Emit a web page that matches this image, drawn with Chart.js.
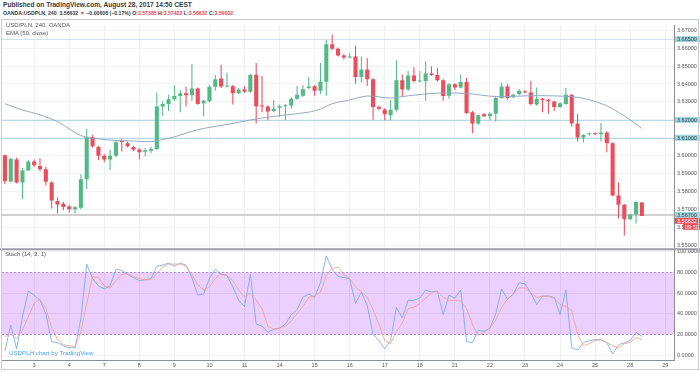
<!DOCTYPE html>
<html>
<head>
<meta charset="utf-8">
<script src="https://cdn.jsdelivr.net/npm/chart.js@4.4.0/dist/chart.umd.min.js"></script>
<style>
  body { margin: 0; width: 700px; height: 372px; background: #fff; overflow: hidden; position: relative;
         font-family: 'Liberation Sans', Arial, sans-serif; }
  .txt { position: absolute; white-space: nowrap; line-height: 1; }
  #pub { left: 3px; top: 2px; font-size: 6.6px; font-weight: bold; color: #3a3a3a; }
  #sym { left: 3px; top: 10.5px; font-size: 5.2px; font-weight: bold; color: #3a3a3a; }
  #sym .r { color: #e0474f; }
  .leg { font-size: 6px; color: #555; }
  #wm { left: 9px; top: 350px; font-size: 6.2px; color: #46a6e8; }
  #wrap { position: absolute; left: 0; top: 19px; width: 700px; height: 353px; }
  #frame { position: absolute; left: 1px; top: 19px; width: 698px; height: 351px; border: 1px solid #c9ccd0; box-sizing: border-box; pointer-events: none; }
</style>
</head>
<body>
<div class="txt" id="pub">Published on TradingView.com, August 28, 2017 14:50 CEST</div>
<div class="txt" id="sym">OANDA:USDPLN, 240 &nbsp;3.56632 <span class="r">▼</span> −0.00608 (−0.17%) O:<span class="r">3.57385</span> H:<span class="r">3.57422</span> L:<span class="r">3.56632</span> C:<span class="r">3.56632</span></div>
<div id="wrap"><canvas id="chart" width="700" height="353"></canvas></div>
<div id="frame"></div>
<div class="txt leg" style="left:6px;top:22px">USD/PLN, 240, OANDA</div>
<div class="txt leg" style="left:6px;top:29.5px">EMA (50, close)</div>
<div class="txt leg" style="left:5px;top:250.5px">Stoch (14, 3, 1)</div>
<div class="txt" id="wm">USDPLH chart by TradingView</div>
<script>
// Trading days shown (Aug 2017) and 4h bars in each slot of the time axis
const days = ['2', '3', '4', '7', '8', '9', '10', '11', '14', '15', '16', '17', '18', '21', '22', '23', '24', '25', '28', '29'];
const barsPerDay = [5, 6, 6, 6, 6, 6, 6, 6, 6, 6, 6, 6, 6, 6, 6, 6, 6, 6, 6, 2];
const hours = ['00:00', '04:00', '08:00', '12:00', '16:00', '20:00'];

// OHLC, one value per 4h candle (110 candles)
const open = [
  3.6002, 3.5856, 3.5979, 3.5851, 3.5918, 3.5968, 3.5942, 3.5924, 3.5851, 3.5747,
  3.5732, 3.5717, 3.5701, 3.5710, 3.5869, 3.6103, 3.6048, 3.6000, 3.5979, 3.6000,
  3.6081, 3.6070, 3.6048, 3.6035, 3.6022, 3.6028, 3.6037, 3.6274, 3.6289, 3.6315,
  3.6333, 3.6349, 3.6338, 3.6375, 3.6293, 3.6304, 3.6384, 3.6430, 3.6386, 3.6388,
  3.6349, 3.6369, 3.6357, 3.6452, 3.6278, 3.6274, 3.6249, 3.6267, 3.6276, 3.6280,
  3.6317, 3.6335, 3.6377, 3.6388, 3.6362, 3.6413, 3.6621, 3.6596, 3.6559, 3.6548,
  3.6554, 3.6439, 3.6481, 3.6426, 3.6271, 3.6258, 3.6225, 3.6256, 3.6421, 3.6369,
  3.6448, 3.6414, 3.6417, 3.6459, 3.6450, 3.6421, 3.6335, 3.6399, 3.6380, 3.6411,
  3.6243, 3.6180, 3.6231, 3.6220, 3.6234, 3.6322, 3.6386, 3.6326, 3.6344, 3.6358,
  3.6353, 3.6285, 3.6317, 3.6311, 3.6302, 3.6271, 3.6289, 3.6338, 3.6180, 3.6101,
  3.6119, 3.6125, 3.6119, 3.6130, 3.6070, 3.5778, 3.5726, 3.5646, 3.5672, 3.57385
];
const high = [
  3.6006, 3.5989, 3.5988, 3.5933, 3.5975, 3.5979, 3.5986, 3.5938, 3.5858, 3.5768,
  3.5741, 3.5726, 3.5719, 3.5896, 3.6150, 3.6116, 3.6055, 3.6008, 3.6033, 3.6084,
  3.6092, 3.6079, 3.6055, 3.6043, 3.6043, 3.6048, 3.6353, 3.6304, 3.6340, 3.6393,
  3.6366, 3.6384, 3.6512, 3.6380, 3.6311, 3.6395, 3.6450, 3.6508, 3.6463, 3.6395,
  3.6377, 3.6389, 3.6457, 3.6517, 3.6444, 3.6282, 3.6311, 3.6284, 3.6289, 3.6326,
  3.6389, 3.6393, 3.6439, 3.6393, 3.6517, 3.6645, 3.6676, 3.6603, 3.6567, 3.6572,
  3.6614, 3.6554, 3.6545, 3.6433, 3.6280, 3.6265, 3.6311, 3.6532, 3.6453, 3.6472,
  3.6494, 3.6472, 3.6527, 3.6499, 3.6490, 3.6428, 3.6404, 3.6404, 3.6453, 3.6435,
  3.6250, 3.6229, 3.6238, 3.6243, 3.6335, 3.6408, 3.6399, 3.6346, 3.6371, 3.6366,
  3.6417, 3.6380, 3.6322, 3.6317, 3.6307, 3.6298, 3.6377, 3.6344, 3.6234, 3.6120,
  3.6130, 3.6130, 3.6183, 3.6136, 3.6075, 3.5851, 3.5730, 3.5677, 3.5745, 3.57422
];
const low = [
  3.5842, 3.5851, 3.5845, 3.5759, 3.5913, 3.5938, 3.5913, 3.5833, 3.5705, 3.5677,
  3.5696, 3.5683, 3.5677, 3.5701, 3.5814, 3.6044, 3.5975, 3.5964, 3.5920, 3.5993,
  3.6024, 3.6046, 3.6028, 3.5979, 3.5997, 3.6015, 3.6030, 3.6223, 3.6249, 3.6307,
  3.6243, 3.6274, 3.6307, 3.6284, 3.6220, 3.6298, 3.6362, 3.6377, 3.6380, 3.6285,
  3.6344, 3.6351, 3.6351, 3.6180, 3.6243, 3.6198, 3.6242, 3.6216, 3.6198, 3.6262,
  3.6311, 3.6329, 3.6371, 3.6335, 3.6344, 3.6335, 3.6589, 3.6554, 3.6536, 3.6545,
  3.6402, 3.6408, 3.6389, 3.6201, 3.6253, 3.6198, 3.6198, 3.6247, 3.6329, 3.6362,
  3.6408, 3.6408, 3.6307, 3.6444, 3.6413, 3.6307, 3.6317, 3.6366, 3.6375, 3.6233,
  3.6125, 3.6171, 3.6216, 3.6198, 3.6189, 3.6317, 3.6313, 3.6320, 3.6337, 3.6349,
  3.6280, 3.6280, 3.6243, 3.6234, 3.6249, 3.6267, 3.6284, 3.6161, 3.6079, 3.6073,
  3.6112, 3.6116, 3.6079, 3.6019, 3.5774, 3.5650, 3.5555, 3.5641, 3.5622, 3.56632
];
const close = [
  3.5858, 3.5982, 3.5851, 3.5918, 3.5968, 3.5946, 3.5924, 3.5854, 3.5750, 3.5728,
  3.5714, 3.5701, 3.5712, 3.5869, 3.6103, 3.6052, 3.6000, 3.5979, 3.6000, 3.6075,
  3.6077, 3.6052, 3.6033, 3.6019, 3.6030, 3.6037, 3.6274, 3.6289, 3.6315, 3.6333,
  3.6349, 3.6337, 3.6375, 3.6289, 3.6306, 3.6384, 3.6426, 3.6386, 3.6390, 3.6349,
  3.6369, 3.6357, 3.6452, 3.6276, 3.6274, 3.6247, 3.6262, 3.6276, 3.6280, 3.6317,
  3.6340, 3.6371, 3.6386, 3.6362, 3.6413, 3.6621, 3.6596, 3.6559, 3.6548, 3.6554,
  3.6439, 3.6481, 3.6426, 3.6271, 3.6262, 3.6231, 3.6256, 3.6421, 3.6369, 3.6448,
  3.6417, 3.6417, 3.6459, 3.6450, 3.6421, 3.6333, 3.6399, 3.6380, 3.6411, 3.6238,
  3.6180, 3.6225, 3.6220, 3.6234, 3.6322, 3.6386, 3.6322, 3.6340, 3.6362, 3.6353,
  3.6289, 3.6317, 3.6311, 3.6304, 3.6271, 3.6293, 3.6340, 3.6180, 3.6101, 3.6116,
  3.6125, 3.6119, 3.6130, 3.6070, 3.5778, 3.5726, 3.5646, 3.5672, 3.5741, 3.56632
];

// EMA(50, close): [candle number, value]
const emaPoints = [
  [1, 3.6290], [4, 3.6255], [7, 3.6228], [10, 3.6190], [12, 3.6150], [14, 3.6112],
  [17, 3.6094], [20, 3.6085], [23, 3.6082], [26, 3.6078], [28, 3.6090], [30, 3.6105],
  [34, 3.6145], [40, 3.6180], [44, 3.6205], [48, 3.6223], [53, 3.6243], [55, 3.6260],
  [57, 3.6290], [60, 3.6311], [63, 3.6333], [67, 3.6322], [70, 3.6334], [75, 3.6349],
  [80, 3.6347], [85, 3.6330], [92, 3.6335], [98, 3.6329], [101, 3.6312], [104, 3.6278],
  [107, 3.6222], [110, 3.6152]
];

// Stoch (14, 3, 1): %K and %D per candle
const stochK = [
  4, 29, 6, 37, 62, 58, 53, 40, 13, 12,
  9, 7, 7, 35, 88, 74, 67, 64, 67, 83,
  82, 78, 75, 72, 73, 74, 86, 87, 89, 86,
  89, 87, 75, 58, 59, 74, 83, 78, 77, 66,
  53, 47, 78, 30, 28, 22, 25, 26, 30, 39,
  44, 56, 59, 56, 70, 96, 83, 76, 75, 74,
  50, 61, 48, 20, 14, 6, 14, 46, 36, 53,
  53, 55, 63, 61, 62, 39, 58, 55, 63, 13,
  12, 24, 23, 26, 40, 64, 54, 59, 70, 69,
  60, 49, 57, 57, 56, 39, 63, 7, 5, 12,
  14, 15, 15, 12, 1, 10, 12, 14, 22, 18
];
const stochD = [
  18, 20, 16, 24, 37, 50, 54, 45, 27, 15,
  10, 9, 8, 22, 50, 76, 75, 67, 65, 72,
  78, 79, 76, 74, 73, 73, 79, 85, 88, 88,
  88, 86, 78, 68, 63, 66, 74, 79, 77, 72,
  63, 56, 60, 53, 45, 28, 25, 26, 28, 33,
  40, 47, 56, 57, 61, 77, 84, 85, 78, 74,
  66, 61, 56, 44, 30, 14, 11, 23, 31, 45,
  46, 50, 55, 60, 62, 56, 53, 53, 52, 45,
  30, 19, 22, 26, 34, 46, 54, 59, 65, 65,
  60, 56, 57, 57, 55, 49, 47, 43, 20, 9,
  11, 14, 15, 12, 9, 7, 11, 12, 17, 15
];

// Drawn horizontal levels and stoch band
const levels = [3.665, 3.62, 3.61, 3.567];
const bandLevels = [80, 20];
const countdown = '09:50';

const UP = '#53b987';
const DOWN = '#eb4d5c';
const levelColors = ['#d3e3ea', '#b5dbe7', '#b5dbe7', '#d0d0d0'];
const levelWidths = [1, 1, 1, 2];

// build the time axis categories (first day starts after midnight)
const categories = [];
const dayOf = [];
days.forEach((d, j) => {
  const hs = j === 0 ? hours.slice(hours.length - barsPerDay[j]) : hours.slice(0, barsPerDay[j]);
  hs.forEach(h => { categories.push('Aug ' + d + ' ' + h); dayOf.push(h === '00:00' ? d : ''); });
});

const wicks = low.map((l, i) => [l, high[i]]);
const bodies = open.map((o, i) => [o, close[i]]);
const colors = open.map((o, i) => close[i] >= o ? UP : DOWN);
const ema = close.map(() => null);
emaPoints.forEach(([n, v]) => { ema[n - 1] = v; });

Chart.defaults.font.family = "'Liberation Sans', Arial, sans-serif";
Chart.defaults.color = '#555';

const panes = {
  id: 'panes',
  beforeDatasetsDraw(chart) {
    const { ctx, chartArea: a, scales: { y, y2 } } = chart;
    ctx.save();
    const t = y2.getPixelForValue(bandLevels[0]);
    const b = y2.getPixelForValue(bandLevels[1]);
    ctx.fillStyle = 'rgba(153, 21, 255, 0.2)';
    ctx.fillRect(a.left, t, a.right - a.left, b - t);
    ctx.strokeStyle = '#b38fe0';
    ctx.lineWidth = 1;
    ctx.setLineDash([2, 2]);
    bandLevels.forEach(v => {
      const p = Math.round(y2.getPixelForValue(v)) + 0.5;
      ctx.beginPath(); ctx.moveTo(a.left, p); ctx.lineTo(a.right, p); ctx.stroke();
    });
    ctx.setLineDash([]);
    levels.forEach((v, i) => {
      const p = Math.round(y.getPixelForValue(v)) + (levelWidths[i] % 2 ? 0.5 : 0);
      ctx.strokeStyle = levelColors[i];
      ctx.lineWidth = levelWidths[i];
      ctx.beginPath(); ctx.moveTo(a.left, p); ctx.lineTo(a.right, p); ctx.stroke();
    });
    ctx.restore();
  },
  afterDraw(chart) {
    const { ctx, chartArea: a, scales: { y } } = chart;
    ctx.save();
    // pane separator
    ctx.strokeStyle = '#9a9ea3';
    ctx.lineWidth = 2;
    ctx.beginPath(); ctx.moveTo(0, y.bottom); ctx.lineTo(chart.width, y.bottom); ctx.stroke();
    // price tags on the axis, pushed down when they would overlap
    const tags = levels.map(v => ({ v, bg: '#a3d6dc', fg: '#1f3b40', text: v.toFixed(5), full: true }));
    const lastClose = close[close.length - 1];
    const cur = { v: lastClose, bg: '#e84d5a', fg: '#fff', text: lastClose.toFixed(5), full: true };
    tags.push(cur);
    tags.forEach(tg => { tg.p = y.getPixelForValue(tg.v); });
    tags.sort((m, n) => m.p - n.p);
    tags.splice(tags.indexOf(cur) + 1, 0, { bg: '#e84d5a', fg: '#fff', text: countdown, full: false, p: cur.p });
    let prev = -100;
    ctx.font = '5.5px "Liberation Sans", Arial, sans-serif';
    ctx.textBaseline = 'middle';
    tags.forEach(tg => {
      const p = Math.max(tg.p, prev + 6);
      prev = p;
      const x0 = tg.full ? a.right + 1 : a.right + 9;
      ctx.fillStyle = tg.bg;
      ctx.fillRect(x0, p - 3, chart.width - x0, 6);
      ctx.fillStyle = tg.fg;
      ctx.fillText(tg.text, x0 + 2, p + 0.3);
    });
    ctx.restore();
  }
};

new Chart(document.getElementById('chart').getContext('2d'), {
  data: {
    labels: categories,
    datasets: [
      { type: 'bar', label: 'wick', data: wicks, backgroundColor: colors, yAxisID: 'y',
        barPercentage: 0.18, categoryPercentage: 1, grouped: false, order: 3 },
      { type: 'bar', label: 'body', data: bodies, backgroundColor: colors, yAxisID: 'y',
        barPercentage: 0.7, categoryPercentage: 1, grouped: false, minBarLength: 1, order: 2 },
      { type: 'line', label: 'EMA (50, close)', data: ema, yAxisID: 'y', borderColor: '#95a8c4',
        borderWidth: 1, pointRadius: 0, spanGaps: true, tension: 0.3, order: 1 },
      { type: 'line', label: '%K', data: stochK, yAxisID: 'y2', borderColor: '#6fa6ee',
        borderWidth: 0.8, pointRadius: 0, order: 1 },
      { type: 'line', label: '%D', data: stochD, yAxisID: 'y2', borderColor: '#f2a07a',
        borderWidth: 0.8, pointRadius: 0, order: 0 }
    ]
  },
  options: {
    responsive: false,
    animation: false,
    layout: { padding: { left: 2, top: 1, right: 0, bottom: 1 } },
    plugins: { legend: { display: false }, tooltip: { enabled: false } },
    scales: {
      x: {
        type: 'category',
        offset: true,
        grid: { offset: false, drawTicks: false, color: c => dayOf[c.index] ? '#eef0f2' : 'transparent' },
        border: { color: '#8a8f94' },
        ticks: { autoSkip: false, maxRotation: 0, padding: 2, font: { size: 5.5 },
                 callback: (v, i) => dayOf[i] },
        afterFit: s => { s.height = 11; }
      },
      y: {
        position: 'right',
        stack: 'panes',
        stackWeight: 227.5,
        min: 3.5478,
        max: 3.67274,
        grid: { color: '#f0f2f4', drawTicks: false },
        border: { color: '#8a8f94' },
        ticks: { stepSize: 0.01, includeBounds: false, padding: 3, font: { size: 5.5 },
                 callback: v => v.toFixed(5) },
        afterFit: s => { s.width = 26; }
      },
      y2: {
        position: 'right',
        stack: 'panes',
        stackWeight: 112.5,
        min: -4.76,
        max: 102.4,
        grid: { color: '#f0f2f4', drawTicks: false },
        border: { color: '#8a8f94' },
        ticks: { stepSize: 20, includeBounds: false, padding: 3, font: { size: 5.5 },
                 callback: v => v.toFixed(4) },
        afterFit: s => { s.width = 26; }
      }
    }
  },
  plugins: [panes]
});
</script>
</body>
</html>
